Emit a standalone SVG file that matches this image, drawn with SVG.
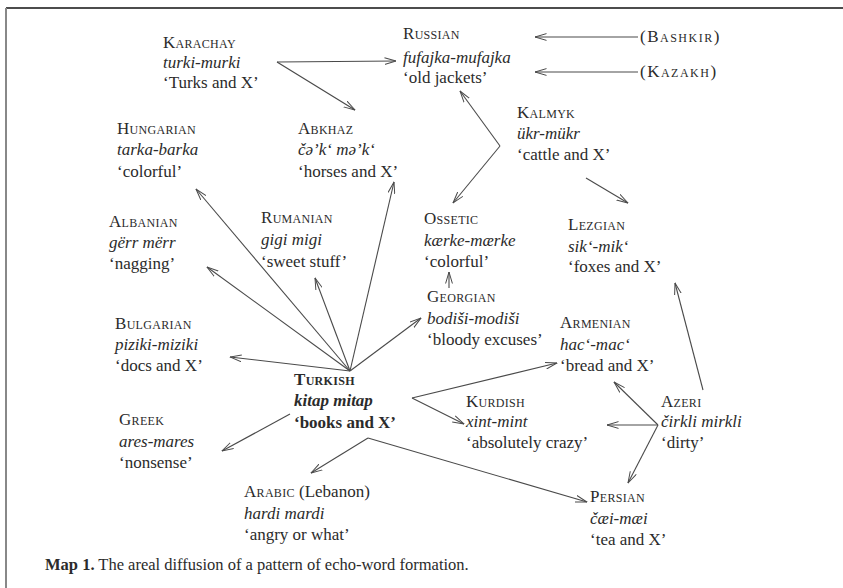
<svg xmlns="http://www.w3.org/2000/svg" width="843" height="588" viewBox="0 0 843 588">
<defs>
<style>
text{font-family:"Liberation Serif","Times New Roman",serif;font-size:17px;fill:#2b2b2b}
.sc{font-variant:small-caps;letter-spacing:0.3px}
.it{font-style:italic}
.b{font-weight:bold}
.cap{font-size:16.5px}
.ln{stroke:#4a4a4a;stroke-width:1.1;fill:none;marker-end:url(#ah)}
</style>
<marker id="ah" viewBox="0 0 12 8" refX="11.5" refY="4" markerWidth="12" markerHeight="8" markerUnits="userSpaceOnUse" orient="auto">
<path d="M0,0.6 L11.5,4 L0,7.4" fill="none" stroke="#4a4a4a" stroke-width="1"/>
</marker>
</defs>
<rect width="843" height="588" fill="#fff"/>
<line x1="6" y1="8" x2="843" y2="8" stroke="#111" stroke-width="1.5"/>
<line x1="6" y1="8" x2="6" y2="588" stroke="#888" stroke-width="2"/>

<g id="connectors">
<line class="ln" x1="277" y1="62" x2="396" y2="61"/>
<line class="ln" x1="277" y1="62" x2="355" y2="110"/>
<line class="ln" x1="638" y1="37" x2="535" y2="37"/>
<line class="ln" x1="638" y1="72" x2="535" y2="72"/>
<line class="ln" x1="500" y1="146" x2="460" y2="91"/>
<line class="ln" x1="500" y1="146" x2="453" y2="203"/>
<line class="ln" x1="586" y1="178" x2="628" y2="203"/>
<line class="ln" x1="449" y1="288" x2="449" y2="272"/>
<line class="ln" x1="350" y1="371" x2="196" y2="189"/>
<line class="ln" x1="350" y1="371" x2="394" y2="182"/>
<line class="ln" x1="350" y1="371" x2="207" y2="267"/>
<line class="ln" x1="350" y1="371" x2="315" y2="278"/>
<line class="ln" x1="350" y1="371" x2="230" y2="357"/>
<line class="ln" x1="350" y1="371" x2="421" y2="318"/>
<line class="ln" x1="290" y1="414" x2="222" y2="451"/>
<line class="ln" x1="412" y1="398" x2="557" y2="363"/>
<line class="ln" x1="412" y1="398" x2="464" y2="424"/>
<line class="ln" x1="368" y1="438" x2="311" y2="473"/>
<line class="ln" x1="368" y1="438" x2="587" y2="502"/>
<line class="ln" x1="658" y1="425" x2="614" y2="382"/>
<line class="ln" x1="658" y1="425" x2="607" y2="425"/>
<line class="ln" x1="658" y1="425" x2="628" y2="483"/>
<line class="ln" x1="703" y1="390" x2="675" y2="283"/>
</g>

<g id="karachay"><text x="163" y="48" class="sc">Karachay</text><text x="163" y="68" class="it">turki-murki</text><text x="163" y="88">‘Turks and X’</text></g>
<g id="russian"><text x="403" y="39" class="sc">Russian</text><text x="403" y="63" class="it">fufajka-mufajka</text><text x="403" y="83">‘old jackets’</text></g>
<g id="bashkir"><text x="640" y="42" class="sc" style="letter-spacing:1.5px">(Bashkir)</text></g>
<g id="kazakh"><text x="640" y="77" class="sc" style="letter-spacing:1.5px">(Kazakh)</text></g>
<g id="hungarian"><text x="117" y="134" class="sc">Hungarian</text><text x="117" y="155" class="it">tarka-barka</text><text x="117" y="177">‘colorful’</text></g>
<g id="abkhaz"><text x="298" y="134" class="sc">Abkhaz</text><text x="298" y="155" class="it">čə’k‘ mə’k‘</text><text x="298" y="177">‘horses and X’</text></g>
<g id="kalmyk"><text x="517" y="118" class="sc">Kalmyk</text><text x="517" y="139" class="it">ükr-mükr</text><text x="517" y="160">‘cattle and X’</text></g>
<g id="ossetic"><text x="424" y="224" class="sc">Ossetic</text><text x="424" y="246" class="it">kærke-mærke</text><text x="424" y="267">‘colorful’</text></g>
<g id="lezgian"><text x="568" y="230" class="sc">Lezgian</text><text x="568" y="252" class="it">sik‘-mik‘</text><text x="568" y="272">‘foxes and X’</text></g>
<g id="albanian"><text x="109" y="227" class="sc">Albanian</text><text x="109" y="248" class="it">gërr mërr</text><text x="109" y="269">‘nagging’</text></g>
<g id="rumanian"><text x="261" y="223" class="sc">Rumanian</text><text x="261" y="245" class="it">gigi migi</text><text x="261" y="267">‘sweet stuff’</text></g>
<g id="georgian"><text x="427" y="302" class="sc">Georgian</text><text x="427" y="324" class="it">bodiši-modiši</text><text x="427" y="345">‘bloody excuses’</text></g>
<g id="armenian"><text x="560" y="328" class="sc">Armenian</text><text x="560" y="350" class="it">hac‘-mac‘</text><text x="560" y="371">‘bread and X’</text></g>
<g id="bulgarian"><text x="115" y="329" class="sc">Bulgarian</text><text x="115" y="350" class="it">piziki-miziki</text><text x="115" y="371">‘docs and X’</text></g>
<g id="turkish"><text x="294" y="385" class="sc b">Turkish</text><text x="294" y="406" class="it b">kitap mitap</text><text x="294" y="428" class="b">‘books and X’</text></g>
<g id="kurdish"><text x="466" y="407" class="sc">Kurdish</text><text x="466" y="427" class="it">xint-mint</text><text x="466" y="448">‘absolutely crazy’</text></g>
<g id="azeri"><text x="661" y="407" class="sc">Azeri</text><text x="661" y="427" class="it">čirkli mirkli</text><text x="661" y="448">‘dirty’</text></g>
<g id="greek"><text x="119" y="425" class="sc">Greek</text><text x="119" y="447" class="it">ares-mares</text><text x="119" y="468">‘nonsense’</text></g>
<g id="arabic"><text x="244" y="497"><tspan class="sc">Arabic</tspan> (Lebanon)</text><text x="244" y="519" class="it">hardi mardi</text><text x="244" y="540">‘angry or what’</text></g>
<g id="persian"><text x="590" y="502" class="sc">Persian</text><text x="590" y="524" class="it">čæi-mæi</text><text x="590" y="545">‘tea and X’</text></g>
<g id="caption"><text x="45" y="570" class="cap"><tspan class="b">Map 1.</tspan> The areal diffusion of a pattern of echo-word formation.</text></g>
</svg>
